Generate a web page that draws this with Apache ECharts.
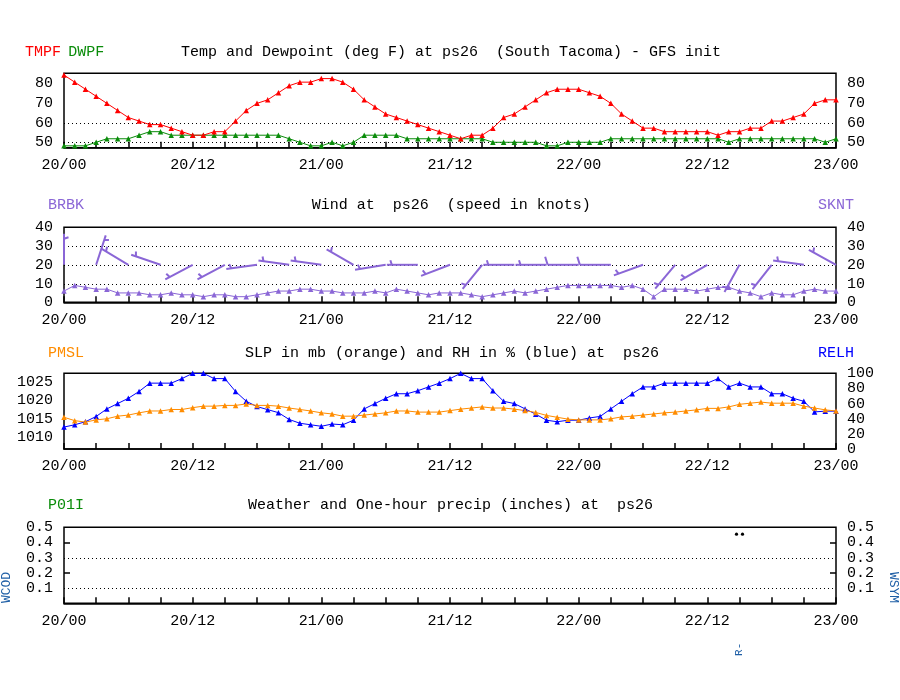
<!DOCTYPE html>
<html><head><meta charset="utf-8">
<script src="https://cdn.jsdelivr.net/npm/echarts@6/dist/echarts.min.js"></script>
<style>html,body{margin:0;padding:0;background:#fff}#c{width:900px;height:700px}</style>
</head><body><div id="c"></div>
<script>
// ---------- DATA ----------
const hours = [0,1,2,3,4,5,6,7,8,9,10,11,12,13,14,15,16,17,18,19,20,21,22,23,24,25,26,27,28,29,30,31,32,33,34,35,36,37,38,39,40,41,42,43,44,45,46,47,48,49,50,51,52,53,54,55,56,57,58,59,60,61,62,63,64,65,66,67,68,69,70,71,72];
const xTickHours = [0,12,24,36,48,60,72];
const xTickLabels = ['20/00','20/12','21/00','21/12','22/00','22/12','23/00'];

const tmpf = [84.2,80.6,77,73.4,69.8,66.2,62.6,60.8,59,59,57.2,55.4,53.6,53.6,55.4,55.4,60.8,66.2,69.8,71.6,75.2,78.8,80.6,80.6,82.4,82.4,80.6,77,71.6,68,64.4,62.6,60.8,59,57.2,55.4,53.6,
  51.8,53.6,53.6,57.2,62.6,64.4,68,71.6,75.2,77,77,77,75.2,73.4,69.8,64.4,60.8,57.2,57.2,55.4,55.4,55.4,55.4,55.4,53.6,55.4,55.4,57.2,57.2,60.8,60.8,62.6,64.4,69.8,71.6,71.6];
const dwpf = [48.2,48.2,48.2,50,51.8,51.8,51.8,53.6,55.4,55.4,53.6,53.6,53.6,53.6,53.6,53.6,53.6,53.6,53.6,53.6,53.6,51.8,50,48.2,48.2,50,48.2,50,53.6,53.6,53.6,53.6,51.8,51.8,51.8,51.8,51.8,
  51.8,51.8,51.8,50,50,50,50,50,48.2,48.2,50,50,50,50,51.8,51.8,51.8,51.8,51.8,51.8,51.8,51.8,51.8,51.8,51.8,50,51.8,51.8,51.8,51.8,51.8,51.8,51.8,51.8,50,51.8];

const sknt = [6,9,8,7,7,5,5,5,4,4,5,4,4,3,4,4,3,3,4,5,6,6,7,7,6,6,5,5,5,6,5,7,6,5,4,5,5,
  5,4,3,4,5,6,5,6,7,8,9,9,9,9,9,8,9,7,3,7,7,7,6,7,8,8,6,5,3,5,4,4,6,7,6,6];
const barbHours = [0,3,6,9,12,15,18,21,24,27,30,33,36,39,42,45,48,51,54,57,60,63,66,69,72];
const windDir = [360,18,301,289,242,242,262,278,278,300,261,270,249,219,270,270,270,270,250,220,240,209,218,278,299];
const barbLevel = 20;

const pmsl = [1015.4,1014.5,1014.1,1014.7,1015.0,1015.7,1016.0,1016.6,1017.1,1017.1,1017.5,1017.5,1018.0,1018.4,1018.4,1018.6,1018.6,1019.0,1018.6,1018.6,1018.4,1017.9,1017.5,1017.1,1016.6,1016.3,1015.7,1015.7,1016.0,1016.3,1016.6,1017.1,1017.1,1016.8,1016.8,1016.8,1017.2,
  1017.6,1017.9,1018.2,1017.9,1017.9,1017.6,1017.2,1016.7,1015.9,1015.4,1014.9,1014.7,1014.7,1014.7,1015.0,1015.5,1015.7,1016.0,1016.3,1016.6,1016.8,1017.1,1017.4,1017.8,1017.8,1018.2,1018.9,1019.2,1019.5,1019.2,1019.2,1019.2,1018.4,1017.9,1017.4,1017.1];
const relh = [29,32,36,43,53,60,67,76,87,87,87,93,100,100,93,93,76,63,56,52,48,39,34,32,30,33,32,38,53,60,67,73,73,77,82,87,93,
  100,93,93,77,63,60,53,46,38,36,38,38,41,43,53,63,73,82,82,87,87,87,87,87,93,82,87,82,82,73,73,67,63,49,50,50];

const wsymHours = [63];
const wsymLevel = [0.455];
const wcodHours = [63];
const wcodText = ['R-'];

const tempTicks = [50,60,70,80];
const tempGrid = [50,60];
const windTicks = [0,10,20,30,40];
const windGrid = [10,20,30];
const slpTicks = [1010,1015,1020,1025];
const rhTicks = [0,20,40,60,80,100];
const pcpTicks = [0.1,0.2,0.3,0.4,0.5];
const pcpGrid = [0.1,0.3];
const pcpMinorTicks = [0.2,0.4];

// ---------- STYLE ----------
const FONT = '"Liberation Mono", "DejaVu Sans Mono", monospace';
const FS = 15;
const RED = '#ff0000', GREEN = '#0a8c0a', PURPLE = '#8a66d6', ORANGE = '#ff8c00', BLUE = '#0000ff', CODEBLUE = '#1f5fa6';
const L = 64, R = 64;
const grids = [
  {top: 73.3, height: 74.4},
  {top: 227.3, height: 75},
  {top: 373.3, height: 75.7},
  {top: 527.3, height: 76}
];

function xAx(g) {
  return {type:'value', gridIndex:g, min:0, max:72, interval:3,
    axisLine:{show:true, lineStyle:{color:'#000', width:1.5}},
    axisTick:{show:true, inside:true, length:6, lineStyle:{color:'#000', width:1.5}},
    axisLabel:{customValues:xTickHours, margin:10, fontFamily:FONT, fontSize:FS, color:'#000',
      formatter: v => xTickLabels[xTickHours.indexOf(v)] || ''},
    splitLine:{show:false}};
}
function yAx(g, pos, min, max, labels, ticks) {
  return {type:'value', gridIndex:g, position:pos, min:min, max:max,
    axisLine:{show:false}, splitLine:{show:false},
    axisTick:{show: !!ticks, inside:true, length:6, customValues: ticks || [], lineStyle:{color:'#000', width:1.5}},
    axisLabel:{customValues:labels, margin:11, fontFamily:FONT, fontSize:FS, color:'#000', formatter: v => String(v)}};
}
function dotted(xi, yi, vals) {
  return {type:'custom', xAxisIndex:xi, yAxisIndex:yi, silent:true, z:1,
    data: vals.map(v => [v]),
    renderItem: (p, api) => {
      const a = api.coord([0, api.value(0)]), b = api.coord([72, api.value(0)]);
      const y = Math.round(a[1]) + 0.5;
      return {type:'line', shape:{x1:a[0], y1:y, x2:b[0], y2:y}, style:{stroke:'#000', lineWidth:1, lineDash:[1,3]}};
    }};
}
function lineS(name, data, xi, yi, color) {
  return {name, type:'line', xAxisIndex:xi, yAxisIndex:yi, data: hours.map((h,i)=>[h, data[i]]),
    symbol:'triangle', symbolSize:5.5, showSymbol:true,
    lineStyle:{color, width:1}, itemStyle:{color}, z:3};
}

const barbData = barbHours.map((h,i)=>[h, barbLevel, windDir[i], sknt[h]]);

function renderBarb(params, api) {
  const h = api.value(0), lvl = api.value(1), dir = api.value(2), spd = api.value(3);
  const b = api.coord([h, lvl]);
  const t = dir * Math.PI / 180;
  const ux = Math.sin(t), uy = -Math.cos(t);
  const len = 31;
  const tx = b[0] + ux*len, ty = b[1] + uy*len;
  const px = -uy, py = ux;
  const st = {stroke:PURPLE, lineWidth:2};
  const ch = [{type:'line', shape:{x1:b[0], y1:b[1], x2:tx, y2:ty}, style:st}];
  const r = Math.round(spd/5)*5;
  const nFull = Math.floor(r/10), half = (r % 10) >= 5;
  let pos = 0;
  for (let k=0;k<nFull;k++) {
    const sx = tx - ux*pos, sy = ty - uy*pos;
    ch.push({type:'line', shape:{x1:sx, y1:sy, x2:sx+px*8+ux*2.5, y2:sy+py*8+uy*2.5}, style:st});
    pos += 4;
  }
  if (half) {
    if (nFull === 0) pos = 5;
    const sx = tx - ux*pos, sy = ty - uy*pos;
    ch.push({type:'line', shape:{x1:sx, y1:sy, x2:sx+px*4.5+ux*1.5, y2:sy+py*4.5+uy*1.5}, style:st});
  }
  return {type:'group', children:ch};
}

const wxData = wsymHours.map((h,i)=>[h, wsymLevel[i], wcodText[i]]);
function renderWx(params, api) {
  const c = api.coord([api.value(0), api.value(1)]);
  const base = api.coord([wcodHours[params.dataIndex], 0]);
  const txt = wcodText[params.dataIndex];
  return {type:'group', children:[
    {type:'circle', shape:{cx:c[0]-3, cy:c[1], r:1.6}, style:{fill:'#000'}},
    {type:'circle', shape:{cx:c[0]+3, cy:c[1], r:1.6}, style:{fill:'#000'}},
    {type:'text', x:base[0], y:base[1]+46, rotation:Math.PI/2,
      style:{text:txt, fill:CODEBLUE, font:'11px ' + FONT, align:'center', verticalAlign:'middle', textAlign:'center', textVerticalAlign:'middle'}}
  ]};
}

function txt(text, x, y, color, opts) {
  opts = opts || {};
  return {type:'text', x:x, y:y, rotation: opts.rot || 0, silent:true,
    style:{text:text, fill:color, font:(opts.size || FS) + 'px ' + FONT,
      align: opts.align || 'left', verticalAlign:'middle', textAlign: opts.align || 'left', textVerticalAlign:'middle'}};
}

const option = {
  animation:false,
  backgroundColor:'#fff',
  grid: grids.map(g => ({left:L, right:R, top:g.top, height:g.height, show:true, borderColor:'#000', borderWidth:1.5, containLabel:false})),
  xAxis: [xAx(0), xAx(1), xAx(2), xAx(3)],
  yAxis: [
    yAx(0,'left',47.25,85.1,tempTicks), yAx(0,'right',47.25,85.1,tempTicks),
    yAx(1,'left',0,40,windTicks), yAx(1,'right',0,40,windTicks),
    yAx(2,'left',1006.85,1027.26,slpTicks), yAx(2,'right',0,100,rhTicks),
    yAx(3,'left',0,0.5,pcpTicks,pcpMinorTicks), yAx(3,'right',0,0.5,pcpTicks,pcpMinorTicks)
  ],
  series: [
    dotted(0,0,tempGrid),
    lineS('DWPF', dwpf, 0, 0, GREEN),
    lineS('TMPF', tmpf, 0, 0, RED),
    dotted(1,2,windGrid),
    lineS('SKNT', sknt, 1, 2, PURPLE),
    {name:'BRBK', type:'custom', xAxisIndex:1, yAxisIndex:2, data:barbData, renderItem:renderBarb, clip:false, z:4},
    lineS('RELH', relh, 2, 5, BLUE),
    lineS('PMSL', pmsl, 2, 4, ORANGE),
    dotted(3,6,pcpGrid),
    {name:'WSYM', type:'custom', xAxisIndex:3, yAxisIndex:6, data:wxData, renderItem:renderWx, clip:false, z:4}
  ],
  graphic: [
    txt('TMPF', 25, 52, RED), txt('DWPF', 68.3, 52, GREEN),
    txt('Temp and Dewpoint (deg F) at ps26  (South Tacoma) - GFS init', 181, 52, '#000'),
    txt('BRBK', 48, 205.5, PURPLE), txt('SKNT', 818, 205.5, PURPLE),
    txt('Wind at  ps26  (speed in knots)', 311.7, 205.5, '#000'),
    txt('PMSL', 48, 353, ORANGE), txt('RELH', 818, 353, BLUE),
    txt('SLP in mb (orange) and RH in % (blue) at  ps26', 245, 353, '#000'),
    txt('P01I', 48, 505.5, GREEN),
    txt('Weather and One-hour precip (inches) at  ps26', 248, 505.5, '#000'),
    txt('WCOD', 6.7, 587.5, CODEBLUE, {rot:Math.PI/2, size:13, align:'center'}),
    txt('WSYM', 893, 587.5, CODEBLUE, {rot:-Math.PI/2, size:13, align:'center'})
  ]
};
const chart = echarts.init(document.getElementById('c'), null, {renderer:'canvas'});
chart.setOption(option);
</script></body></html>
